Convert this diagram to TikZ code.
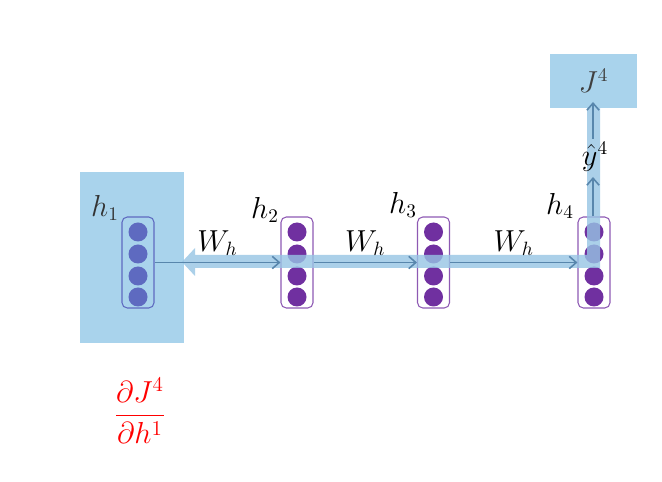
\documentclass[tikz,border=0pt]{standalone}
\usepackage{amsmath}
\usepackage{tikz}
\usetikzlibrary{arrows.meta}
\definecolor{boxblue}{RGB}{169,211,236}
\definecolor{bandblue}{RGB}{150,196,228}
\definecolor{arrowc}{RGB}{88,134,172}
\definecolor{hpurple}{RGB}{112,48,160}
\definecolor{hblue}{RGB}{94,106,192}
\tikzset{
  column/.style={draw=#1, rounded corners=3pt, minimum width=32*0.02cm, minimum height=91*0.02cm, line width=0.6pt},
  unit/.style={circle, fill=#1, minimum size=19*0.02cm, inner sep=0pt},
  link/.style={draw=arrowc, line width=0.9pt, -{Straight Barb[length=4pt,width=7pt]}},
  lbl/.style={font=\fontsize{16}{18}\selectfont}
}
\begin{document}
\begin{tikzpicture}[x=0.02cm, y=-0.02cm]
	\useasboundingbox (0,0) rectangle (662,482);
	\fill[boxblue] (80,172) rectangle (184,343);
	\node (J) [fill=boxblue, minimum width=87*0.02cm, minimum height=54*0.02cm, text=black!75, lbl] at (593.5,81) {$J^4$};
	\node (h1) [column=hblue] at (138,262.5) {};
	\node (h2) [column=hpurple!80] at (297,262.5) {};
	\node (h3) [column=hpurple!80] at (433.5,262.5) {};
	\node (h4) [column=hpurple!80] at (594,262.5) {};
	\foreach \y in {232,254,276,297} {
		\node [unit=hblue] at (138,\y) {};
		\node [unit=hpurple] at (297,\y) {};
		\node [unit=hpurple] at (433.5,\y) {};
		\node [unit=hpurple] at (594,\y) {};
	}
	% thick backward band
	\fill[bandblue, opacity=0.8] (182,262) -- (195,248) -- (195,255) -- (587,255) -- (587,108)
		-- (600,108) -- (600,268) -- (195,268) -- (195,276) -- cycle;
	\node (yhat) [lbl] at (595,157) {$\hat{y}^4$};
	\coordinate (ylow) at (593,177);
	\coordinate (yhigh) at (593,139);
	\coordinate (Jin) at (593,102);
	\draw[link] (h1) to node [above, lbl] {$W_h$} (h2);
	\draw[link] (h2) to node [above, lbl] {$W_h$} (h3);
	\draw[link] (h3) to node [above, lbl] {$W_h$} (h4);
	\draw[link] (h4.north -| ylow) to (ylow);
	\draw[link] (yhigh) to (Jin);
	\node [lbl, text=black!80] at (105,208) {$h_1$};
	\node [lbl] at (265,210) {$h_2$};
	\node [lbl] at (403,205) {$h_3$};
	\node [lbl] at (560,206) {$h_4$};
	\node (grad) [text=red, font=\fontsize{18}{22}\selectfont] at (140,411) {$\dfrac{\partial J^4}{\partial h^1}$};
\end{tikzpicture}
\end{document}
